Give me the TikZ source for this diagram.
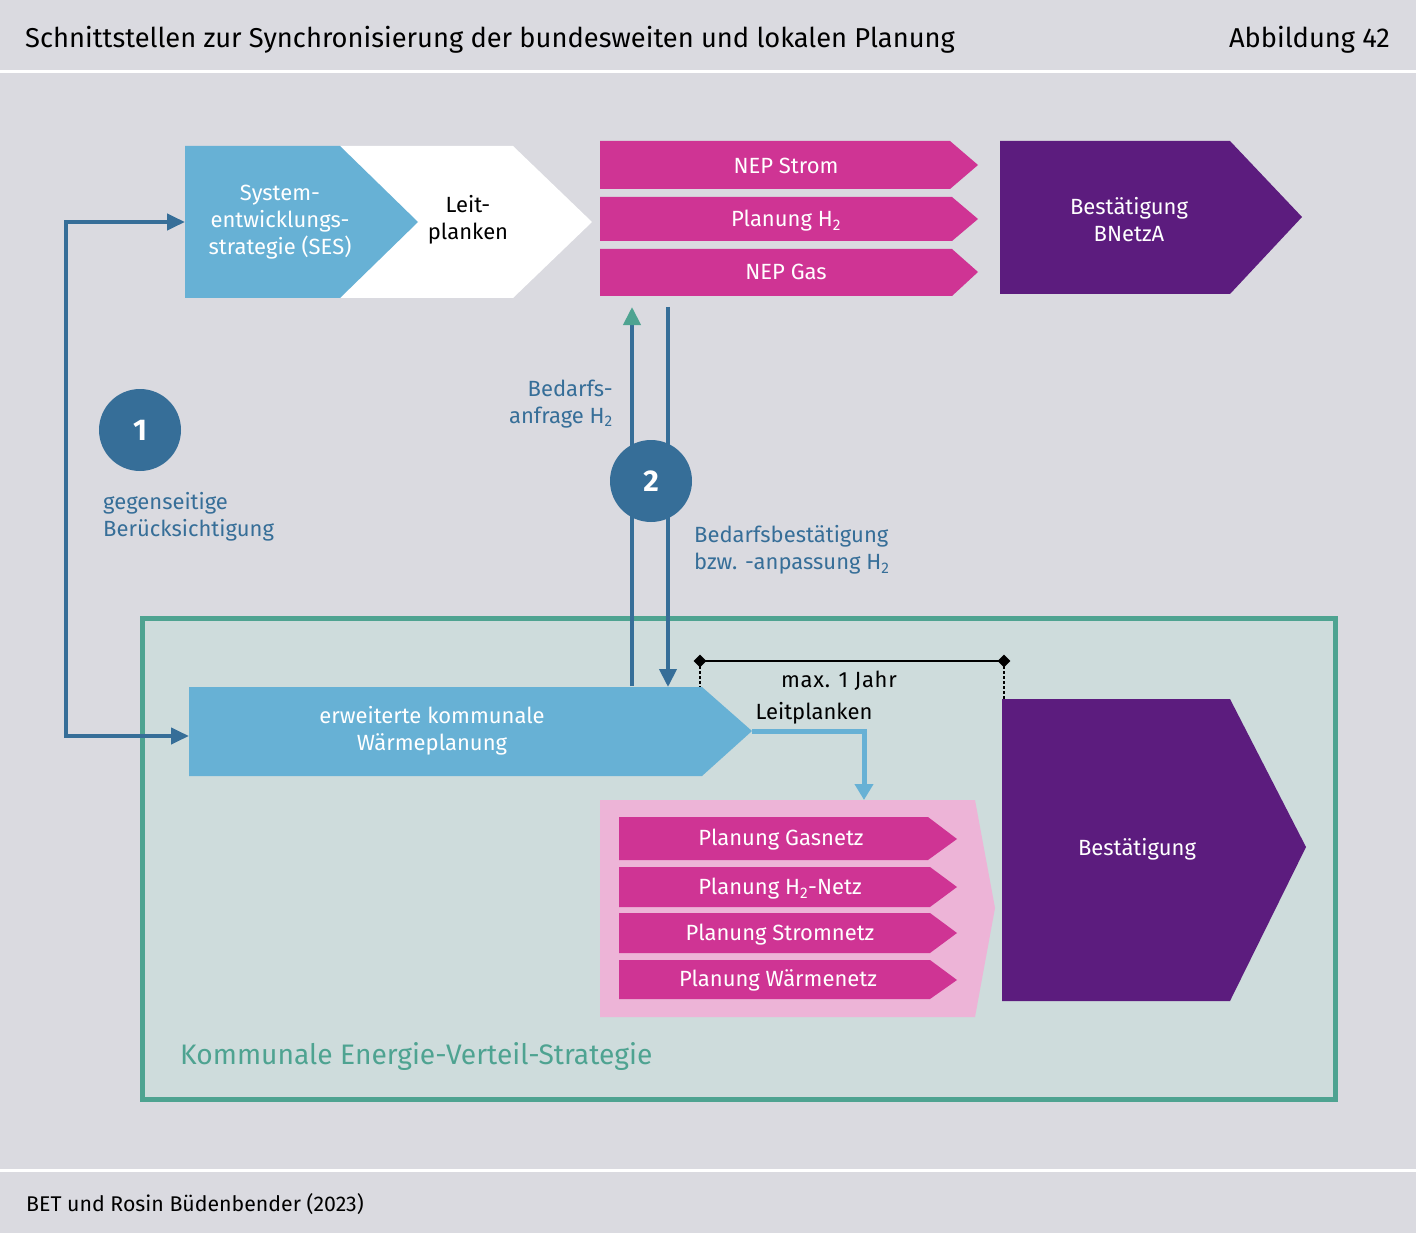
\documentclass[tikz,border=0pt]{standalone}
\usepackage{fontspec}
\setmainfont{Fira Sans}
\usetikzlibrary{arrows.meta,shapes.geometric}
\definecolor{bgc}{HTML}{DADAE0}
\definecolor{lblue}{HTML}{67B1D5}
\definecolor{dblue}{HTML}{366E98}
\definecolor{grn}{HTML}{4EA391}
\definecolor{mag}{HTML}{CF3494}
\definecolor{purp}{HTML}{5C1C7E}
\definecolor{pinkc}{HTML}{EDB4D7}
\definecolor{framefill}{HTML}{CEDCDC}
\begin{document}
\begin{tikzpicture}[x=1pt,y=-1pt,
  txt/.style={font=\fontsize{22}{27}\selectfont, align=center, inner sep=0pt},
  wtxt/.style={txt, text=white},
  btxt/.style={txt, text=dblue},
  dline/.style={draw=dblue, line width=4pt},
  badge/.style={circle, fill=dblue, minimum size=82pt, inner sep=0pt, text=white, font=\fontsize{30}{30}\selectfont\bfseries},
  dimtip/.style={diamond, fill=black, minimum size=13pt, inner sep=0pt},
]
\fill[bgc] (0,0) rectangle (1416,1233);
\useasboundingbox (0,0) rectangle (1416,1233);
% header / footer
\fill[white] (0,70) rectangle (1416,73);
\fill[white] (0,1169) rectangle (1416,1172);
\node[anchor=west, inner sep=0pt, font=\fontsize{27.3}{30}\selectfont] (title) at (25,40) {Schnittstellen zur Synchronisierung der bundesweiten und lokalen Planung};
\node[anchor=east, inner sep=0pt, font=\fontsize{27.3}{30}\selectfont] (fig) at (1390,40) {Abbildung 42};
\node[anchor=west, inner sep=0pt, font=\fontsize{21.3}{24}\selectfont] (src) at (26,1204) {BET und Rosin Büdenbender (2023)};

% top row
\fill[white] (340,146) -- (513,146) -- (592,222) -- (513,298) -- (340,298) -- cycle;
\fill[lblue] (185,146) -- (340,146) -- (418,222) -- (340,298) -- (185,298) -- cycle;
\node[wtxt] (ses) at (280,222) {System-\\entwicklungs-\\strategie (SES)};
\node[txt] (leit) at (468,220) {Leit-\\planken};
\coordinate (sesin) at (185,222);

\fill[mag] (600,141) -- (950,141) -- (978,165) -- (950,189) -- (600,189) -- cycle;
\fill[mag] (600,197) -- (952,197) -- (978,219) -- (952,241) -- (600,241) -- cycle;
\fill[mag] (600,249) -- (952,249) -- (978,272) -- (952,296) -- (600,296) -- cycle;
\node[wtxt] (nepstrom) at (786,166) {NEP Strom};
\node[wtxt] (planh) at (786,221) {Planung H\textsubscript{2}};
\node[wtxt] (nepgas) at (786,272) {NEP Gas};
\fill[purp] (1000,141) -- (1230,141) -- (1302,217) -- (1230,294) -- (1000,294) -- cycle;
\node[wtxt] (bnetza) at (1129,220) {Bestätigung\\BNetzA};

% bottom frame
\draw[grn, fill=framefill, line width=5pt] (142,618) rectangle (1335,1099);
\node[anchor=west, inner sep=0pt, text=grn, font=\fontsize{28.2}{30}\selectfont] (kevs) at (180,1056) {Kommunale Energie-Verteil-Strategie};

\fill[lblue] (189,687) -- (702,687) -- (752,731) -- (702,776) -- (189,776) -- cycle;
\node[wtxt] (kwp) at (432,731) {erweiterte kommunale\\Wärmeplanung};
\coordinate (kwpin) at (189,736);
\coordinate (kwptip) at (752,731);

% pink container
\fill[pinkc] (600,800) -- (975,800) -- (995,908) -- (975,1017) -- (600,1017) -- cycle;
\coordinate (pinktop) at (864,800);
\fill[mag] (619,817) -- (928,817) -- (957,839) -- (928,860) -- (619,860) -- cycle;
\fill[mag] (619,867) -- (930,867) -- (957,887) -- (930,907) -- (619,907) -- cycle;
\fill[mag] (619,913) -- (930,913) -- (957,933) -- (930,953) -- (619,953) -- cycle;
\fill[mag] (619,960) -- (930,960) -- (957,980) -- (930,999) -- (619,999) -- cycle;
\node[wtxt] (pg) at (781,840) {Planung Gasnetz};
\node[wtxt] (ph) at (780,889) {Planung H\textsubscript{2}-Netz};
\node[wtxt] (ps) at (780,935) {Planung Stromnetz};
\node[wtxt] (pw) at (778,980) {Planung Wärmenetz};

\fill[purp] (1002,699) -- (1230,699) -- (1306,847) -- (1230,1001) -- (1002,1001) -- cycle;
\node[wtxt] (best) at (1137,849) {Bestätigung};

% connector 1
\draw[dline, {Triangle[length=18pt,width=16pt]}-{Triangle[length=18pt,width=16pt]}] (sesin) -- (66,222) -- (66,736) -- (kwpin);
\node[badge] (b1) at (140,430) {1};
\node[btxt, anchor=north west, align=left] (gb) at (103,492) {gegenseitige\\Berücksichtigung};

% connector 2
\coordinate (up0) at (632,686);
\coordinate (up1) at (632,307);
\coordinate (dn0) at (668,307);
\coordinate (dn1) at (668,687);
\draw[dline, -{Triangle[length=18pt,width=17pt,color=grn]}] (up0) -- (up1);
\draw[dline, -{Triangle[length=18pt,width=17pt]}] (dn0) -- (dn1);
\node[badge] (b2) at (651,481) {2};
\node[btxt, anchor=east, align=right] (anf) at (613,404) {Bedarfs-\\anfrage H\textsubscript{2}};
\node[btxt, anchor=west, align=left] (bst) at (694,550) {Bedarfsbestätigung\\bzw. -anpassung H\textsubscript{2}};

% Leitplanken arrow
\draw[lblue, line width=5pt, -{Triangle[length=16pt,width=18pt]}] (kwptip) -- (864,731) -- (pinktop);
\node[txt] (lp) at (814,713) {Leitplanken};

% dimension
\node[dimtip] (d1) at (700,661) {};
\node[dimtip] (d2) at (1004,661) {};
\draw[black, line width=2pt] (d1.center) -- (d2.center);
\draw[black, line width=1.2pt, dash pattern=on 3pt off 2pt] (d1.center) -- (700,687);
\draw[black, line width=1.2pt, dash pattern=on 3pt off 2pt] (d2.center) -- (1004,699);
\node[inner sep=0pt, font=\fontsize{22}{24}\selectfont\addfontfeature{LetterSpace=3}] (maxj) at (839,681) {max. 1 Jahr};
\end{tikzpicture}
\end{document}
